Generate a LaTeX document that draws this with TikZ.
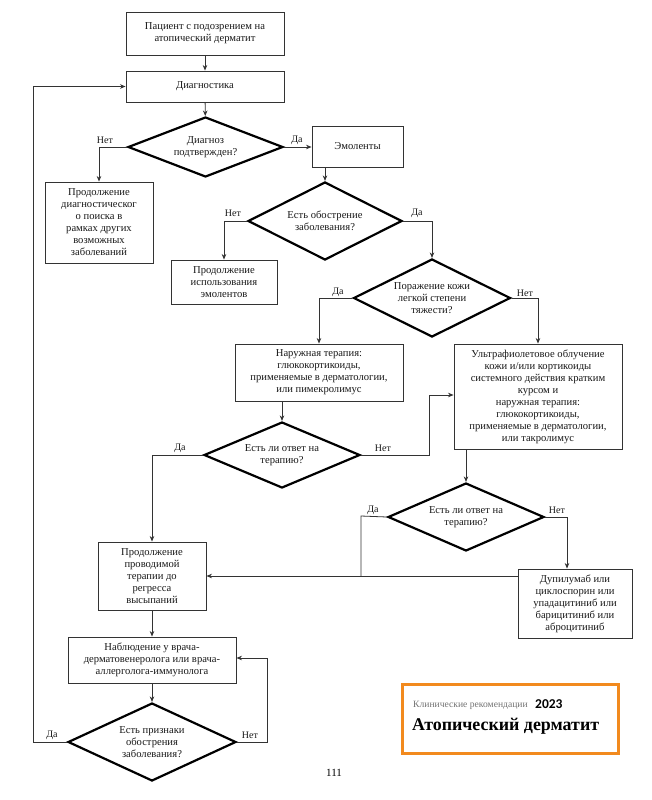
\documentclass[tikz,border=0pt]{standalone}
\usepackage{fontspec}
\setmainfont{Liberation Serif}
\newfontfamily\carlitofont{Carlito}
\usetikzlibrary{shapes.geometric,arrows.meta}
\definecolor{lineclr}{HTML}{333333}
\definecolor{orangeclr}{HTML}{F28A1E}
\begin{document}
\begin{tikzpicture}[x=1pt,y=-1pt,
  every node/.style={font=\fontsize{10.6}{12}\selectfont,text=black!90},
  box/.style={draw=lineclr,line width=0.9pt,align=center,inner sep=1pt},
  dec/.style={diamond,draw=black,line width=2.2pt,aspect=2,inner sep=0pt,align=center},
  conn/.style={draw=lineclr,line width=0.8pt,-{Stealth[length=5.5pt,width=4.5pt]}},
  plain/.style={draw=lineclr,line width=0.8pt},
  lbl/.style={font=\fontsize{10}{11}\selectfont,inner sep=0pt}]
\useasboundingbox (0,0) rectangle (651,800);
\fill[white] (0,0) rectangle (651,800);

\node[box,minimum width=158pt,minimum height=43pt] (p1) at (205,33.5) {Пациент с подозрением на\\атопический дерматит};
\node[box,minimum width=158pt,minimum height=31pt] (diag) at (205,86.5) {Диагностика};
\node[dec,minimum width=155pt,minimum height=60pt] (d1) at (205.5,147) {Диагноз\\подтвержден?};
\node[box,minimum width=108pt,minimum height=81pt] (cont1) at (99,222.5) {Продолжение\\диагностическог\\о поиска в\\рамках других\\возможных\\заболеваний};
\node[box,minimum width=91pt,minimum height=41pt] (emol) at (357.5,146.5) {Эмоленты};
\node[dec,minimum width=154pt,minimum height=78pt] (d2) at (325,221) {Есть обострение\\заболевания?};
\node[box,minimum width=106pt,minimum height=44pt] (cont2) at (224,282) {Продолжение\\использования\\эмолентов};
\node[dec,minimum width=157pt,minimum height=78pt] (d3) at (432,298) {Поражение кожи\\легкой степени\\тяжести?};
\node[box,minimum width=168pt,minimum height=57pt] (nar) at (319,372.5) {Наружная терапия:\\глюкокортикоиды,\\применяемые в дерматологии,\\или пимекролимус};
\node[box,minimum width=168pt,minimum height=105pt] (uf) at (538,396.5) {Ультрафиолетовое облучение\\кожи и/или кортикоиды\\системного действия кратким\\курсом и\\наружная терапия:\\глюкокортикоиды,\\применяемые в дерматологии,\\или такролимус};
\node[dec,minimum width=156pt,minimum height=66pt] (d4) at (282,455) {Есть ли ответ на\\терапию?};
\node[dec,minimum width=156pt,minimum height=68pt] (d5) at (466,517) {Есть ли ответ на\\терапию?};
\node[box,minimum width=108pt,minimum height=68pt] (prod) at (152,576) {Продолжение\\проводимой\\терапии до\\регресса\\высыпаний};
\node[box,minimum width=114pt,minimum height=69pt] (dup) at (575,603.5) {Дупилумаб или\\циклоспорин или\\упадацитиниб или\\барицитиниб или\\аброцитиниб};
\node[box,minimum width=168pt,minimum height=46pt] (nab) at (152,660) {Наблюдение у врача-\\дерматовенеролога или врача-\\аллерголога-иммунолога};
\node[dec,minimum width=168pt,minimum height=78pt] (d6) at (152,742) {Есть признаки\\обострения\\заболевания?};

\coordinate (j4) at (429,455);
\coordinate (j5) at (361,516);
\coordinate (j6l) at (33,742);
\coordinate (j6r) at (267,742);

\draw[conn] (p1) -- (diag);
\draw[conn] (diag) -- (d1);
\draw[conn] (d1.west) -| (cont1.north);
\draw[conn] (d1.east) -- (emol.west |- d1.east);
\draw[conn] (d2.north |- emol.south) -- (d2.north);
\draw[conn] (d2.west) -| (cont2.north);
\draw[conn] (d2.east) -| (d3.north);
\draw[conn] (d3.west) -| (nar.north);
\draw[conn] (d3.east) -| (uf.north);
\draw[conn] (d4.north |- nar.south) -- (d4.north);
\draw[conn] (d4.west) -| (prod.north);
\draw[conn] (d4.east) -- (j4) |- ([yshift=1.5pt]uf.west);
\draw[conn] (d5.north |- uf.south) -- (d5.north);
\draw[plain] (d5.west) -- (j5) -- (j5 |- prod.east);
\draw[conn] (d5.east) -| ([xshift=-8pt]dup.north);
\draw[conn] (dup.west |- prod.east) -- (prod.east);
\draw[conn] (prod) -- (nab);
\draw[conn] (nab) -- (d6);
\draw[conn] (d6.west) -- (j6l) |- (diag.west);
\draw[conn] (d6.east) -- (j6r) |- ([yshift=2pt]nab.east);

\node[lbl] (l1n) at (105,140) {Нет};
\node[lbl] (l1y) at (297,140) {Да};
\node[lbl] (l2n) at (233,213) {Нет};
\node[lbl] (l2y) at (417,213) {Да};
\node[lbl] (l3y) at (338,292) {Да};
\node[lbl] (l3n) at (525,293) {Нет};
\node[lbl] (l4y) at (180,448) {Да};
\node[lbl] (l4n) at (383,448) {Нет};
\node[lbl] (l5y) at (373,510) {Да};
\node[lbl] (l5n) at (557,510) {Нет};
\node[lbl] (l6y) at (52,735) {Да};
\node[lbl] (l6n) at (250,735) {Нет};

\node[draw=orangeclr,line width=3pt,minimum width=216pt,minimum height=69pt] (brand) at (510,718.5) {};
\node[anchor=base west,inner sep=0pt,text=black!55,font=\fontsize{9.6}{10}\selectfont] (cr) at (413,707) {Клинические рекомендации};
\node[anchor=base west,inner sep=0pt,text=black,font=\carlitofont\bfseries\fontsize{13.5}{14}\selectfont] (yr) at (535,708) {2023};
\node[anchor=base west,inner sep=0pt,text=black,font=\bfseries\fontsize{17.9}{20}\selectfont] (title) at (412,730) {Атопический дерматит};
\node[inner sep=0pt,text=black,font=\fontsize{11}{12}\selectfont] (pg) at (334,773) {111};
\end{tikzpicture}
\end{document}
